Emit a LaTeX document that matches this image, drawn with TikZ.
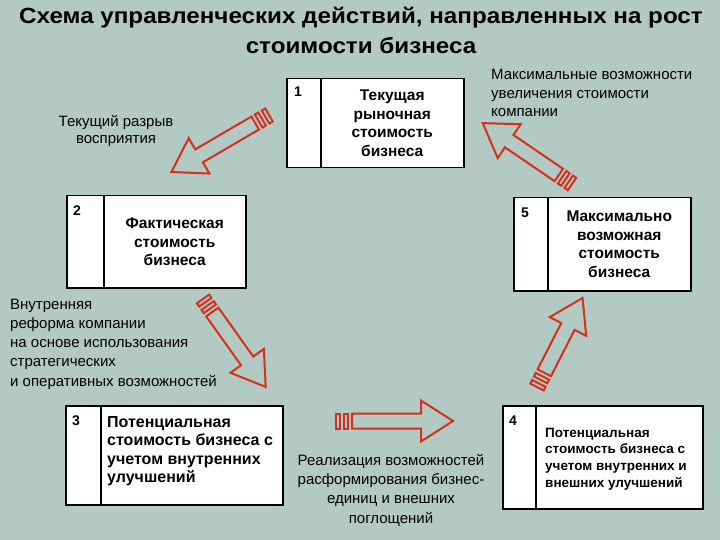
\documentclass[tikz,border=0pt]{standalone}
\usepackage{fontspec}
\setmainfont{Liberation Sans}
\newfontfamily\titlefont[FakeStretch=1.1]{Liberation Sans}
\usetikzlibrary{calc}
\definecolor{bg}{RGB}{179,201,196}
\definecolor{arr}{RGB}{214,48,28}
\newcommand\stripearrow[4]{%
 \begin{scope}[shift={#2}, rotate=#3]
  \coordinate (#1-tail) at (0,0);
  \coordinate (#1-tip) at (#4,0);
  \draw[arrowline] (0,-7.5) rectangle (4,7.5);
  \draw[arrowline] (8,-7.5) rectangle (12,7.5);
  \draw[arrowline] (16,-7.5) -- ({#4-32},-7.5) -- ({#4-32},-20.5) -- (#4,0) -- ({#4-32},20.5) -- ({#4-32},7.5) -- (16,7.5) -- cycle;
 \end{scope}}
\begin{document}
\begin{tikzpicture}[x=1pt,y=-1pt,
  cell/.style={draw=black, line width=1.5pt, fill=white, inner sep=0pt, anchor=north west},
  boxtxt/.style={font=\fontsize{15.5}{18.7}\selectfont\bfseries, align=center},
  numtxt/.style={font=\fontsize{14}{16}\selectfont\bfseries, anchor=base west, inner sep=0pt},
  lbl/.style={font=\fontsize{15}{18.5}\selectfont, inner sep=0pt},
  arrowline/.style={draw=arr, line width=2pt, line join=miter}]
\fill[bg] (0,0) rectangle (720,540);
\useasboundingbox (0,0) rectangle (720,540);

\node[font=\fontsize{22}{30}\titlefont\bfseries, align=center] (title) at (361,30)
  {Схема управленческих действий, направленных на рост\\стоимости бизнеса};

% box 1
\node[cell, minimum width=34pt, minimum height=89pt] (n1) at (286,78) {};
\node[cell, minimum width=143pt, minimum height=89pt, boxtxt] (c1) at (320,78) {Текущая\\рыночная\\стоимость\\бизнеса};
\node[numtxt] (k1) at (294,97) {1};
% box 2
\node[cell, minimum width=37pt, minimum height=92pt] (n2) at (66,195) {};
\node[cell, minimum width=142pt, minimum height=92pt, boxtxt] (c2) at (103,195) {Фактическая\\стоимость\\бизнеса};
\node[numtxt] (k2) at (73,215) {2};
% box 5
\node[cell, minimum width=34pt, minimum height=93pt] (n5) at (513,197) {};
\node[cell, minimum width=143pt, minimum height=93pt, boxtxt] (c5) at (547,197) {Максимально\\возможная\\стоимость\\бизнеса};
\node[numtxt] (k5) at (521,218) {5};
% box 3
\node[cell, minimum width=35pt, minimum height=99pt] (n3) at (65,405) {};
\node[cell, minimum width=182pt, minimum height=99pt] (c3) at (100,405) {};
\node[numtxt] (k3) at (72,425) {3};
\node[font=\fontsize{16}{18.5}\selectfont\bfseries, align=left, anchor=west, inner sep=0pt] (t3) at (107,451)
  {Потенциальная\\стоимость бизнеса с\\учетом внутренних\\улучшений};
% box 4
\node[cell, minimum width=33pt, minimum height=103pt] (n4) at (502,405) {};
\node[cell, minimum width=167pt, minimum height=103pt] (c4) at (535,405) {};
\node[numtxt] (k4) at (509,425) {4};
\node[font=\fontsize{13.5}{16.7}\selectfont\bfseries, align=left, anchor=west, inner sep=0pt] (t4) at (545,459)
  {Потенциальная\\стоимость бизнеса с\\учетом внутренних и\\внешних улучшений};

% labels
\node[lbl, align=center, font=\fontsize{15}{17}\selectfont] (l1) at (116,131) {Текущий разрыв\\восприятия};
\node[lbl, align=left, anchor=west] (l2) at (491,93) {Максимальные возможности\\увеличения стоимости\\компании};
\node[lbl, align=left, anchor=west, font=\fontsize{15}{19.3}\selectfont] (l3) at (10,344) {Внутренняя\\реформа компании\\на основе использования\\стратегических\\и оперативных возможностей};
\node[lbl, align=center, font=\fontsize{15}{19.3}\selectfont] (l4) at (391,490) {Реализация возможностей\\расформирования бизнес-\\единиц и внешних\\поглощений};

% arrows
\stripearrow{aA}{(269,115)}{210.3}{113}
\stripearrow{aB}{(572,184)}{145.7}{108}
\stripearrow{aC}{(203,299)}{-54.5}{108}
\stripearrow{aD}{(537,387)}{62.9}{100}
\stripearrow{aE}{(336,421)}{0}{117}
\end{tikzpicture}
\end{document}
